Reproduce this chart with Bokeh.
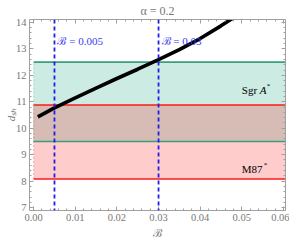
from bokeh.plotting import figure
from bokeh.models import (Range1d, LinearAxis, SingleIntervalTicker, Label,
                          NumeralTickFormatter, Span, CustomLabelingPolicy)
from bokeh.embed import file_html
from bokeh.resources import INLINE

# ---- data ----
B_curve = [0.001, 0.005, 0.01, 0.015, 0.02, 0.025, 0.03, 0.035, 0.04, 0.045, 0.048]
d_curve = [10.43, 10.77, 11.15, 11.52, 11.88, 12.23, 12.59, 12.97, 13.39, 13.87, 14.18]
sgr_band = [9.5, 12.5]     # Sgr A* bounds
m87_band = [8.08, 10.88]   # M87* bounds
B_marks = [0.005, 0.03]
B_mark_labels = ["ℬ = 0.005", "ℬ = 0.03"]
title_text = "α = 0.2"
x_label = "ℬ"
y_label = "dₛₕ"
x_start, x_end = -0.001, 0.0605
y_start, y_end = 6.89, 14.11

SERIF = "Liberation Serif"
GRAY = "#777777"
FRAME = "#a0a0a0"

p = figure(width=289, height=241, output_backend="svg", toolbar_location=None,
           x_range=Range1d(x_start, x_end), y_range=Range1d(y_start, y_end),
           x_axis_location=None, y_axis_location=None,
           min_border_left=29, min_border_right=4, min_border_top=15, min_border_bottom=31)
p.outline_line_color = None
p.grid.visible = False
p.background_fill_color = "white"
p.border_fill_color = "white"

xt = SingleIntervalTicker(interval=0.01, num_minor_ticks=5)
yt = SingleIntervalTicker(interval=1, num_minor_ticks=5)

no_labels = CustomLabelingPolicy(
    code="const out = indices.clone(); for (const i of Array.from(indices)) out.unset(i); return out")

def style(ax, show):
    ax.axis_line_color = FRAME
    ax.major_tick_line_color = FRAME
    ax.minor_tick_line_color = FRAME
    ax.major_tick_in = 4
    ax.major_tick_out = 0
    ax.minor_tick_in = 2
    ax.minor_tick_out = 0
    ax.major_label_text_font = SERIF
    ax.major_label_text_color = GRAY
    ax.axis_label_text_font = SERIF
    ax.axis_label_text_color = GRAY
    if show:
        ax.major_label_text_font_size = "10.5px"
        ax.major_label_standoff = 3
    else:
        ax.major_label_text_font_size = "0px"
        ax.major_label_policy = no_labels
        ax.major_label_standoff = 0

bx = LinearAxis(ticker=xt, formatter=NumeralTickFormatter(format="0.00"))
style(bx, True)
bx.axis_label = x_label
bx.axis_label_text_font_style = "normal"
bx.axis_label_text_font_size = "11px"
bx.axis_label_standoff = 3
p.add_layout(bx, "below")

ly = LinearAxis(ticker=yt)
style(ly, True)
ly.axis_label = y_label
ly.axis_label_text_font_style = "italic"
ly.axis_label_text_font_size = "11px"
ly.axis_label_standoff = -4
p.add_layout(ly, "left")

tx = LinearAxis(ticker=xt)
style(tx, False)
tx.axis_label = title_text
tx.axis_label_text_font_style = "normal"
tx.axis_label_text_font_size = "12px"
tx.axis_label_standoff = 2
p.add_layout(tx, "above")

ry = LinearAxis(ticker=yt)
style(ry, False)
p.add_layout(ry, "right")

# ---- bands ----
GREEN_FILL = "#009b6e"
RED_FILL = "#ff0000"
p.quad(left=0, right=x_end, bottom=sgr_band[0], top=sgr_band[1],
       fill_color=GREEN_FILL, fill_alpha=0.2, line_color=None)
p.quad(left=0, right=x_end, bottom=m87_band[0], top=m87_band[1],
       fill_color=RED_FILL, fill_alpha=0.2, line_color=None)
# faint left edges
p.segment(x0=[0], y0=[sgr_band[0]], x1=[0], y1=[sgr_band[1]],
          line_color=GREEN_FILL, line_alpha=0.3, line_width=1, line_dash="2 2")
p.segment(x0=[0], y0=[m87_band[0]], x1=[0], y1=[m87_band[1]],
          line_color=RED_FILL, line_alpha=0.3, line_width=1, line_dash="2 2")

GREEN_LINE = "#3a9e7e"
RED_LINE = "#ff1a1a"
for yv in sgr_band:
    p.segment(x0=[0], y0=[yv], x1=[x_end], y1=[yv], line_color=GREEN_LINE, line_width=1.6)
for yv in m87_band:
    p.segment(x0=[0], y0=[yv], x1=[x_end], y1=[yv], line_color=RED_LINE, line_width=1.6)

# ---- curve ----
p.line(B_curve, d_curve, line_color="black", line_width=3.6)

# ---- vertical dashed markers ----
for bm in B_marks:
    p.add_layout(Span(location=bm, dimension="height", line_color="#1f1fe6",
                      line_width=1.8, line_dash="4 3"))

BLUE_TXT = "#3c3cf0"
for bm, lab in zip(B_marks, B_mark_labels):
    p.add_layout(Label(x=bm, y=13.3, text=lab, x_offset=3, text_baseline="middle",
                       text_font=SERIF, text_font_size="11px", text_color=BLUE_TXT))

# ---- band labels ----
def band_label(xv, yv, main, ital, sup, dx_ital, dx_sup):
    p.add_layout(Label(x=xv, y=yv, text=main, text_font=SERIF, text_font_size="11px",
                       text_color="black", text_baseline="alphabetic"))
    if ital:
        p.add_layout(Label(x=xv, y=yv, text=ital, x_offset=dx_ital, text_font=SERIF,
                           text_font_size="11px", text_font_style="italic",
                           text_color="black", text_baseline="alphabetic"))
    p.add_layout(Label(x=xv, y=yv, text=sup, x_offset=dx_sup, y_offset=4, text_font=SERIF,
                       text_font_size="7px", text_color="black", text_baseline="alphabetic"))

band_label(0.05, 11.43, "Sgr", "A", "*", 18, 25)
band_label(0.05, 8.46, "M87", None, "*", 0, 22)

open("out.html", "w").write(file_html(p, INLINE))
